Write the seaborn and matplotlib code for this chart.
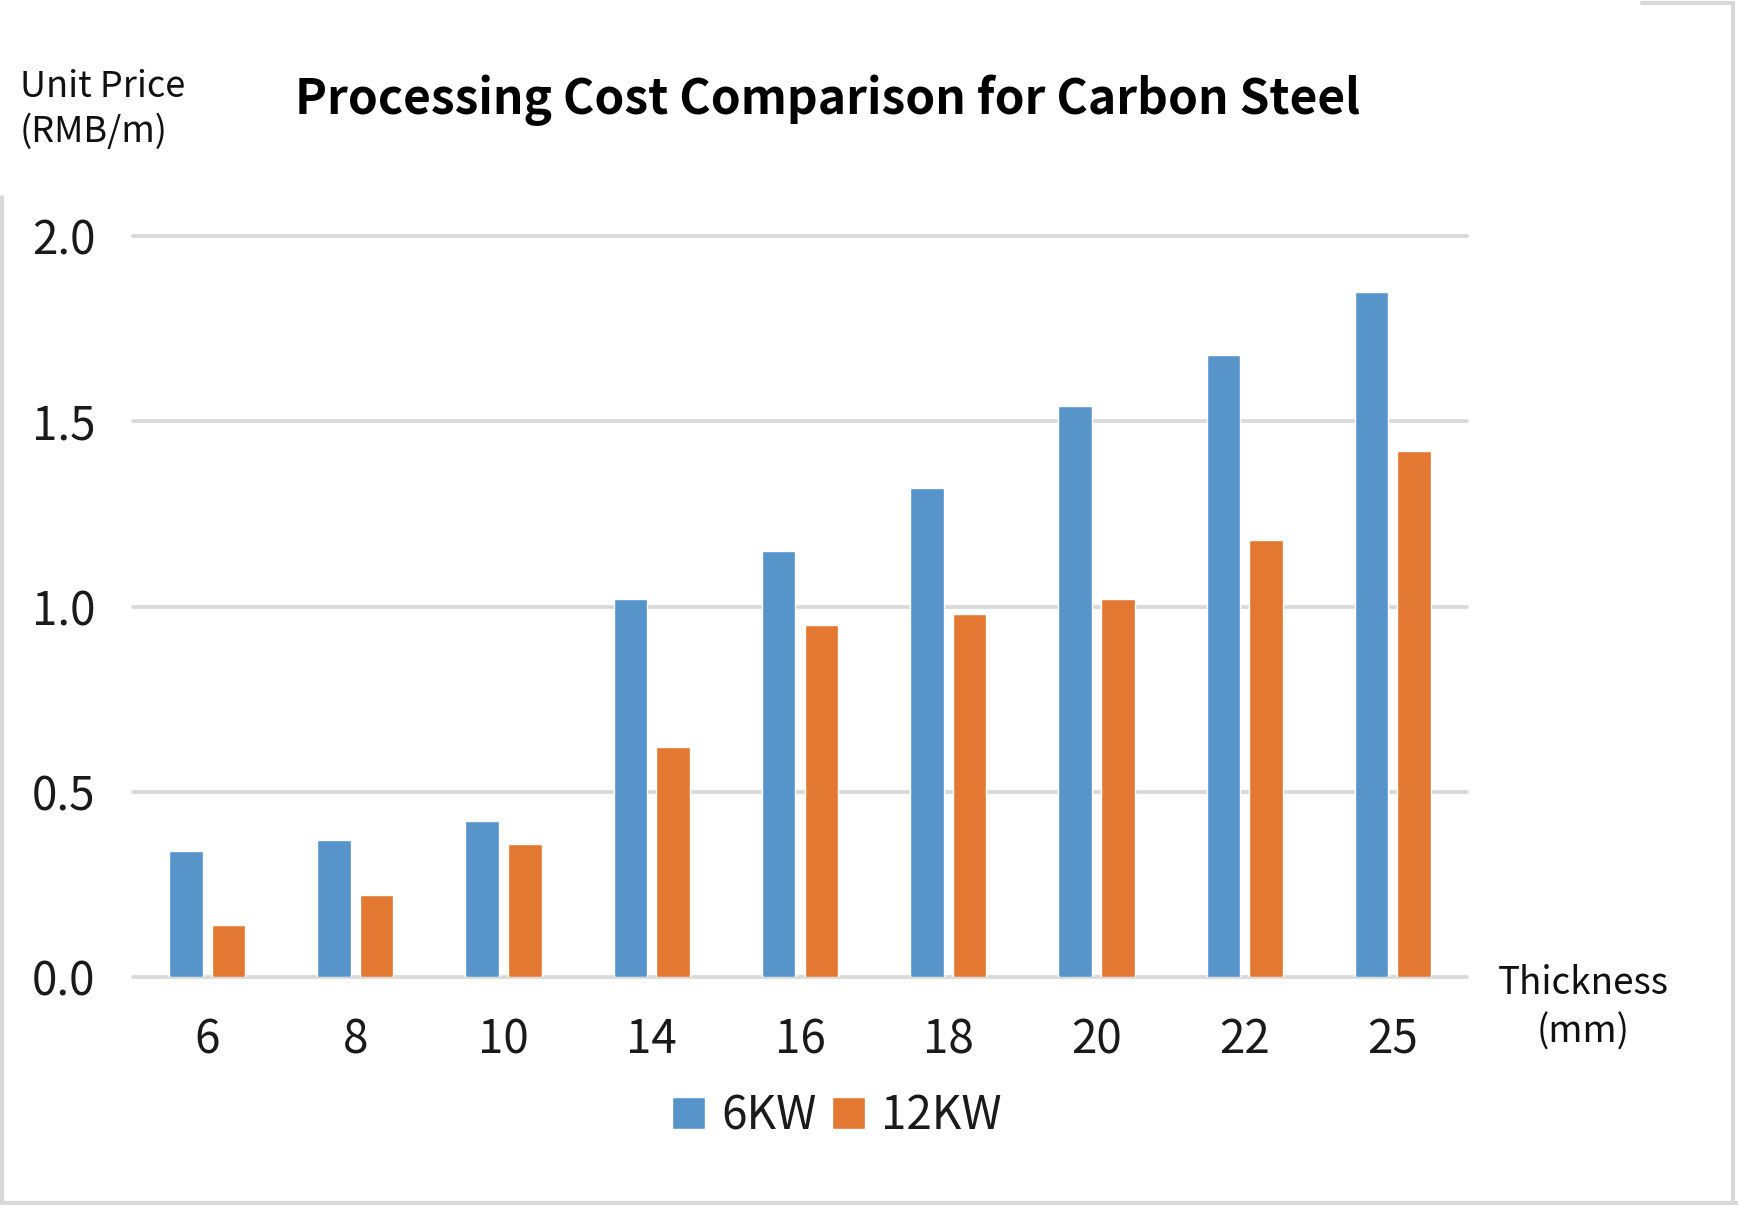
import pandas as pd
import numpy as np
import seaborn as sns
from matplotlib import pyplot as plt
from matplotlib.lines import Line2D

# data
thickness = ['6', '8', '10', '14', '16', '18', '20', '22', '25']
price_6kw = [0.34, 0.37, 0.42, 1.02, 1.15, 1.32, 1.54, 1.68, 1.85]
price_12kw = [0.14, 0.22, 0.36, 0.62, 0.95, 0.98, 1.02, 1.18, 1.42]
series_names = ['6KW', '12KW']
colors = ['#5694CA', '#E37833']
y_ticks = [0.0, 0.5, 1.0, 1.5, 2.0]

df = pd.DataFrame({
    'thickness': thickness * 2,
    'price': price_6kw + price_12kw,
    'power': [series_names[0]] * len(thickness) + [series_names[1]] * len(thickness),
})

sns.set_style('white')
plt.rcParams['font.family'] = ['Noto Sans CJK SC', 'DejaVu Sans']

W, H = 1738, 1205
fig = plt.figure(figsize=(W / 100, H / 100), dpi=100)
ax = fig.add_axes([133 / W, 1 - 977 / H, (1467 - 133) / W, (977 - 236) / H])

sns.barplot(data=df, x='thickness', y='price', hue='power', order=thickness,
            hue_order=series_names, palette=colors, width=0.576, gap=0.215,
            saturation=1, errorbar=None, ax=ax)

ax.set_xlim(-0.5, len(thickness) - 0.5)
ax.set_ylim(0, 2.0)
ax.set_yticks(y_ticks)
ax.set_yticklabels(["{:.1f}".format(v) for v in y_ticks])
ax.set_xlabel('')
ax.set_ylabel('')
for s in ax.spines.values():
    s.set_visible(False)
ax.grid(axis='y', color='#D9D9D9', linewidth=2.7, clip_on=False)
ax.grid(axis='x', visible=False)
ax.set_axisbelow(True)
ax.tick_params(axis='both', length=0, labelsize=33, colors='#1a1a1a')
ax.tick_params(axis='y', pad=27)
ax.tick_params(axis='x', pad=28)

# legend below the plot
handles, labels = ax.get_legend_handles_labels()
ax.legend_.remove()
fig.legend(handles, labels, loc='center', bbox_to_anchor=(837 / W, 1 - 1116 / H),
           ncol=2, frameon=False, fontsize=33, handlelength=0.72, handleheight=0.7,
           handletextpad=0.35, columnspacing=0.35, labelcolor='#1a1a1a')

# title and axis captions
fig.text(828 / W, 1 - 114 / H, 'Processing Cost Comparison for Carbon Steel',
         ha='center', va='baseline', fontsize=34.5, fontweight='bold', color='black')
fig.text(20 / W, 1 - 97 / H, 'Unit Price', ha='left', va='baseline',
         fontsize=26, color='#111111')
fig.text(20 / W, 1 - 142 / H, '(RMB/m)', ha='left', va='baseline',
         fontsize=26, color='#111111')
fig.text(1583 / W, 1 - 1008 / H, 'Thickness\n(mm)', ha='center', va='center',
         fontsize=26.5, color='#111111', linespacing=1.3)

# screenshot frame
frame = dict(color='#D9D9D9', linewidth=3, transform=fig.transFigure)
fig.add_artist(Line2D([2 / W, 2 / W], [0, 1 - 197 / H], **frame))
fig.add_artist(Line2D([0, 1], [2 / H, 2 / H], **frame))
fig.add_artist(Line2D([1733 / W, 1733 / W], [0, 1 - 3 / H], **frame))
fig.add_artist(Line2D([1642 / W, 1733 / W], [1 - 3 / H, 1 - 3 / H], **frame))

plt.savefig('out.png', dpi=100, facecolor='white')
